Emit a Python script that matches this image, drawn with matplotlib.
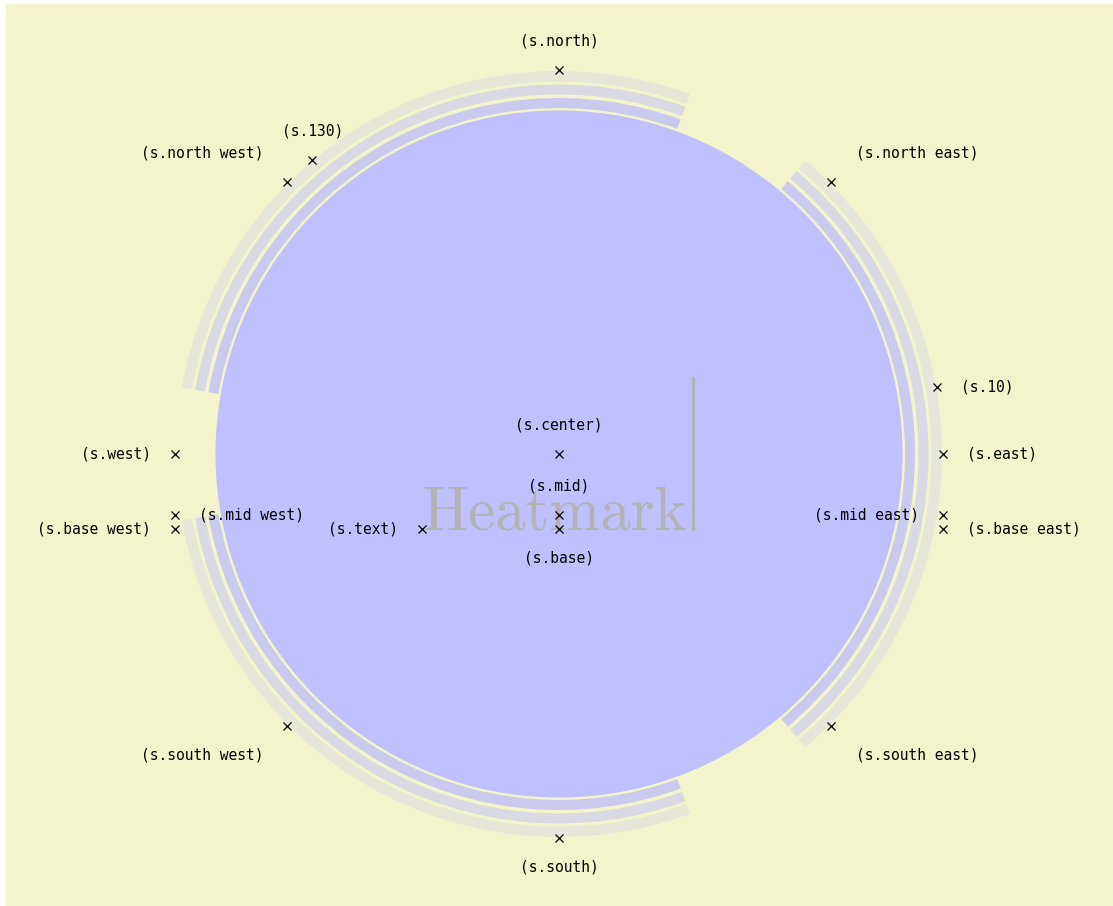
import numpy as np
import matplotlib
matplotlib.use("Agg")
import matplotlib.pyplot as plt
from matplotlib.patches import Circle, Wedge, Rectangle

# shape geometry (pixel-like units, centre of the circle at 0,0)
R_fill = 343.5        # filled disc
R_anchor = 384        # anchors on the outer border
ring_outer = [356.0, 369.5, 383.0]
ring_width = [10.0, 10.0, 10.5]
ring_colors = ["#cacaef", "#d9d9e4", "#e7e7d9"]
arc_starts = [70, 190, 310]
arc_ends = [170, 290, 410]

# anchors on the border: name, angle, label side
border_names = ["north", "north east", "130", "north west", "west", "south west",
                "south", "south east", "east", "10"]
border_angles = [90, 45, 130, 135, 180, 225, 270, 315, 0, 10]
border_side = ["above", "above right", "above", "above left", "left", "below left",
               "below", "below right", "right", "right"]

# anchors off the border: name, x, y, label side
inner_names = ["center", "mid", "base", "text", "mid west", "base west",
               "mid east", "base east"]
inner_x = [0, 0, 0, -137, -384, -384, 384, 384]
inner_y = [0, -61, -75, -75, -61, -75, -61, -75]
inner_side = ["above", "above", "below", "left", "right", "left", "left", "right"]

fig = plt.figure(figsize=(11.13, 9.06), dpi=100)
ax = fig.add_axes([0, 0, 1, 1])
ax.set_xlim(-559, 554)
ax.set_ylim(-452, 454)
ax.set_aspect("equal")
ax.axis("off")

# background
ax.add_patch(Rectangle((-553, -460), 1120, 910, color="#f3f4cb", zorder=0))

# the disc and the three ring arcs
ax.add_patch(Circle((0, 0), R_fill, facecolor="#c0c0ff", lw=0, zorder=1))
for a1, a2 in zip(arc_starts, arc_ends):
    for r, w, c in zip(ring_outer, ring_width, ring_colors):
        ax.add_patch(Wedge((0, 0), r, a1, a2, width=w, facecolor=c, lw=0, zorder=1))

# text of the node
ax.text(-137, -75, "Heatmark", family="cmr10", fontsize=44, color="#b3b3b3",
        ha="left", va="baseline", zorder=2)
ax.plot([134, 134], [-75, 76], color="#b3b3b3", lw=2.2, zorder=2)

offsets = {
    "above": (0, 29, "center"),
    "below": (0, -29, "center"),
    "left": (-24, 0, "right"),
    "right": (24, 0, "left"),
    "above right": (25, 29, "left"),
    "above left": (-24, 29, "right"),
    "below right": (25, -29, "left"),
    "below left": (-24, -29, "right"),
}


def mark(name, x, y, side):
    ax.plot(x, y, marker="x", color="black", ms=6, mew=0.9, zorder=3)
    dx, dy, ha = offsets[side]
    ax.text(x + dx, y + dy, "(s.%s)" % name, family="DejaVu Sans Mono",
            fontsize=10.5, ha=ha, va="center", zorder=3)


for name, ang, side in zip(border_names, border_angles, border_side):
    t = np.radians(ang)
    mark(name, R_anchor * np.cos(t), R_anchor * np.sin(t), side)

for name, x, y, side in zip(inner_names, inner_x, inner_y, inner_side):
    mark(name, x, y, side)

fig.savefig("out.png", dpi=100, facecolor="white")
